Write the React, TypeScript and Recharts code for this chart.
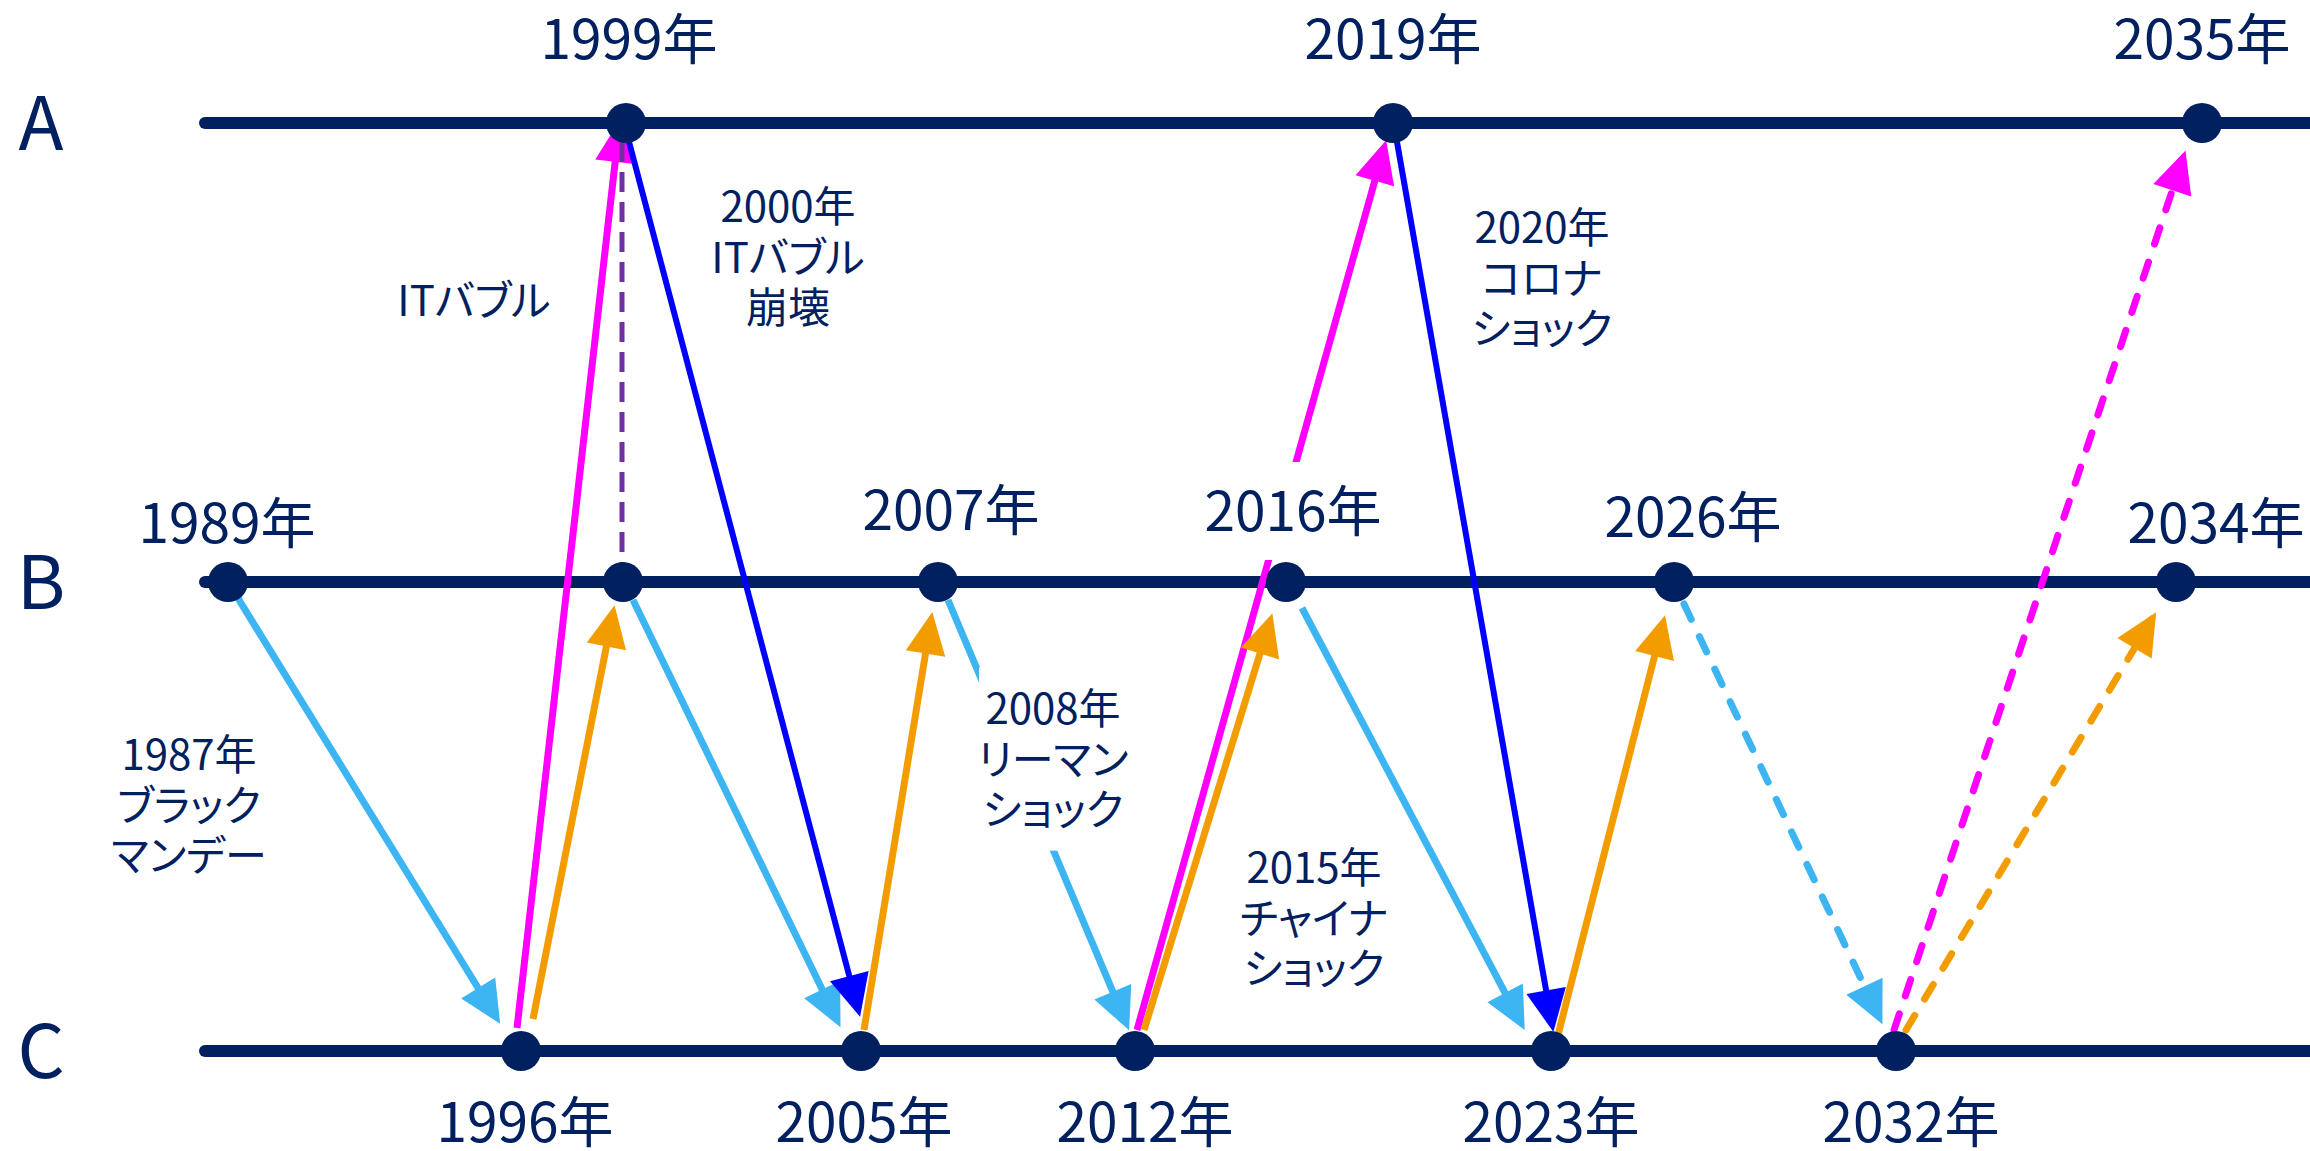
import { ScatterChart, Scatter, XAxis, YAxis } from 'recharts';

const NAVY = '#002060';
const FONT = "'Noto Sans CJK JP', 'Noto Sans', sans-serif";

// levels A/B/C and where their horizontal line runs
const levels = [
  { name: 'A', y: 123 },
  { name: 'B', y: 582 },
  { name: 'C', y: 1051 },
];
const lineStartX = 205;
const lineEndX = 2310;

// points on each level
const pointsA = [
  { year: 1999, x: 626 },
  { year: 2019, x: 1393 },
  { year: 2035, x: 2202 },
];
const pointsB = [
  { year: 1989, x: 228 },
  { year: 1999, x: 623 },
  { year: 2007, x: 938 },
  { year: 2016, x: 1286 },
  { year: 2026, x: 1674 },
  { year: 2034, x: 2176 },
];
const pointsC = [
  { year: 1996, x: 521 },
  { year: 2005, x: 861 },
  { year: 2012, x: 1135 },
  { year: 2023, x: 1551 },
  { year: 2032, x: 1896 },
];

// year captions next to the points
const yearLabels = [
  { text: '1999年', x: 629, y: 39 },
  { text: '2019年', x: 1393, y: 39 },
  { text: '2035年', x: 2202, y: 39 },
  { text: '1989年', x: 227, y: 523 },
  { text: '2007年', x: 951, y: 510 },
  { text: '2016年', x: 1293, y: 511 },
  { text: '2026年', x: 1693, y: 517 },
  { text: '2034年', x: 2216, y: 523 },
  { text: '1996年', x: 525, y: 1122 },
  { text: '2005年', x: 864, y: 1122 },
  { text: '2012年', x: 1145, y: 1122 },
  { text: '2023年', x: 1551, y: 1122 },
  { text: '2032年', x: 1911, y: 1122 },
];

// event notes
const notes = [
  { lines: ['ITバブル'], x: 474, y: 300 },
  { lines: ['2000年', 'ITバブル', '崩壊'], x: 788, y: 257 },
  { lines: ['2020年', 'コロナ', 'ショック'], x: 1542, y: 278 },
  { lines: ['1987年', 'ブラック', 'マンデー'], x: 189, y: 805 },
  { lines: ['2008年', 'リーマン', 'ショック'], x: 1053, y: 759 },
  { lines: ['2015年', 'チャイナ', 'ショック'], x: 1314, y: 918 },
];

// moves between levels; forecast = dashed
const arrows = [
  { from: 'B', to: 'C', x1: 236, y1: 595, x2: 496, y2: 1017, forecast: false },
  { from: 'C', to: 'A', x1: 517, y1: 1028, x2: 619, y2: 128, forecast: false },
  { from: 'C', to: 'B', x1: 533, y1: 1019, x2: 613, y2: 613, forecast: false },
  { from: 'B', to: 'A', x1: 622, y1: 582, x2: 622, y2: 123, forecast: false },
  { from: 'B', to: 'C', x1: 633, y1: 600, x2: 837, y2: 1020, forecast: false },
  { from: 'A', to: 'C', x1: 628, y1: 138, x2: 858, y2: 1009, forecast: false },
  { from: 'C', to: 'B', x1: 864, y1: 1030, x2: 931, y2: 620, forecast: false },
  { from: 'B', to: 'C', x1: 948, y1: 600, x2: 1126, y2: 1023, forecast: false },
  { from: 'C', to: 'A', x1: 1137, y1: 1030, x2: 1384, y2: 148, forecast: false },
  { from: 'C', to: 'B', x1: 1144, y1: 1030, x2: 1270, y2: 621, forecast: false },
  { from: 'B', to: 'C', x1: 1302, y1: 608, x2: 1521, y2: 1023, forecast: false },
  { from: 'A', to: 'C', x1: 1397, y1: 142, x2: 1552, y2: 1024, forecast: false },
  { from: 'C', to: 'B', x1: 1558, y1: 1035, x2: 1663, y2: 623, forecast: false },
  { from: 'B', to: 'C', x1: 1684, y1: 604, x2: 1879, y2: 1017, forecast: true },
  { from: 'C', to: 'A', x1: 1894, y1: 1030, x2: 2183, y2: 158, forecast: true },
  { from: 'C', to: 'B', x1: 1906, y1: 1030, x2: 2152, y2: 619, forecast: true },
];

const moveStyle: Record<string, { color: string; width: number; head: boolean; dash?: string }> = {
  BC: { color: '#3DB5F2', width: 7, head: true },
  CB: { color: '#F39C00', width: 7, head: true },
  CA: { color: '#FF00FF', width: 7, head: true },
  AC: { color: '#0000FF', width: 6, head: true },
  BA: { color: '#7030A0', width: 5, head: false, dash: '20 10' },
};

const levelY = (name: string) => levels.find((l) => l.name === name)!.y;

const charWidth = (c: string) => {
  if (/[0-9]/.test(c)) return 0.56;
  if (/[A-Za-z]/.test(c)) return 0.42;
  if (/[\u30A0-\u30FF]/.test(c)) return 0.78;
  return 1;
};
const textWidth = (s: string, size: number) =>
  s.split('').reduce((a, c) => a + charWidth(c), 0) * size;

const Empty = () => <g />;

function LevelTick(props: any) {
  const { x, y, payload } = props;
  const lv = levels.find((l) => l.y === payload.value);
  return (
    <text
      x={x - 49}
      y={y + 27}
      textAnchor="middle"
      fontSize={74}
      fontFamily={FONT}
      fill={NAVY}
    >
      {lv ? lv.name : ''}
    </text>
  );
}

function TextBox(props: any) {
  const { cx, cy, payload } = props;
  const lines: string[] = payload.lines;
  const size: number = payload.size;
  const lh = size * 1.2;
  const w = Math.max(...lines.map((l) => textWidth(l, size))) + 12;
  const h = lines.length * lh + 32;
  return (
    <g>
      <rect x={cx - w / 2} y={cy - h / 2} width={w} height={h} fill="#ffffff" />
      <text
        textAnchor="middle"
        fontSize={size}
        fontFamily={FONT}
        fill={NAVY}
        style={{ fontFeatureSettings: '"palt"' }}
      >
        {lines.map((l, i) => (
          <tspan key={i} x={cx} y={cy + (i - (lines.length - 1) / 2) * lh + size * 0.37}>
            {l}
          </tspan>
        ))}
      </text>
    </g>
  );
}

const Dot = (props: any) => <circle cx={props.cx} cy={props.cy} r={20} fill={NAVY} />;

export default function App() {
  const pointData = [
    ...pointsA.map((p) => ({ ...p, y: levelY('A') })),
    ...pointsB.map((p) => ({ ...p, y: levelY('B') })),
    ...pointsC.map((p) => ({ ...p, y: levelY('C') })),
  ];
  const textData = [
    ...yearLabels.map((l) => ({ lines: [l.text], x: l.x, y: l.y, size: 55 })),
    ...notes.map((n) => ({ ...n, size: 42 })),
  ];

  return (
    <div style={{ width: 2310, height: 1151 }}>
      <style>{'body{margin:0;}'}</style>
      <ScatterChart width={2310} height={1151} margin={{ top: 0, right: 0, bottom: 0, left: 0 }}>
        <XAxis type="number" dataKey="x" domain={[90, 2310]} allowDataOverflow hide />
        <YAxis
          type="number"
          dataKey="y"
          domain={[0, 1151]}
          reversed
          allowDataOverflow
          width={90}
          ticks={levels.map((l) => l.y)}
          interval={0}
          axisLine={false}
          tickLine={false}
          tickSize={0}
          tickMargin={0}
          tick={<LevelTick />}
        />

        {levels.map((l) => (
          <Scatter
            key={l.name}
            data={[{ x: lineStartX, y: l.y }, { x: lineEndX, y: l.y }]}
            line={{ stroke: NAVY, strokeWidth: 12, strokeLinecap: 'round' }}
            shape={Empty}
            isAnimationActive={false}
          />
        ))}

        {arrows.map((a, i) => {
          const st = moveStyle[a.from + a.to];
          const dash = a.forecast ? '17 19' : st.dash;
          const ang = Math.atan2(a.y2 - a.y1, a.x2 - a.x1);
          const ux = Math.cos(ang);
          const uy = Math.sin(ang);
          const head = (p: any) => {
            if (!p.payload.tip || !st.head) return <g />;
            const tx = p.cx + 8 * ux;
            const ty = p.cy + 8 * uy;
            const bx = tx - 42 * ux;
            const by = ty - 42 * uy;
            const pts = [
              [tx, ty],
              [bx - 20 * uy, by + 20 * ux],
              [bx + 20 * uy, by - 20 * ux],
            ];
            return <polygon points={pts.map((q) => q.join(',')).join(' ')} fill={st.color} />;
          };
          return (
            <Scatter
              key={i}
              data={[{ x: a.x1, y: a.y1 }, { x: a.x2, y: a.y2, tip: true }]}
              line={{
                stroke: st.color,
                strokeWidth: st.width,
                strokeDasharray: dash,
                strokeLinecap: a.forecast ? 'round' : 'butt',
              }}
              shape={head}
              isAnimationActive={false}
            />
          );
        })}

        <Scatter data={textData} shape={TextBox} isAnimationActive={false} />
        <Scatter data={pointData} shape={Dot} isAnimationActive={false} />
      </ScatterChart>
    </div>
  );
}
